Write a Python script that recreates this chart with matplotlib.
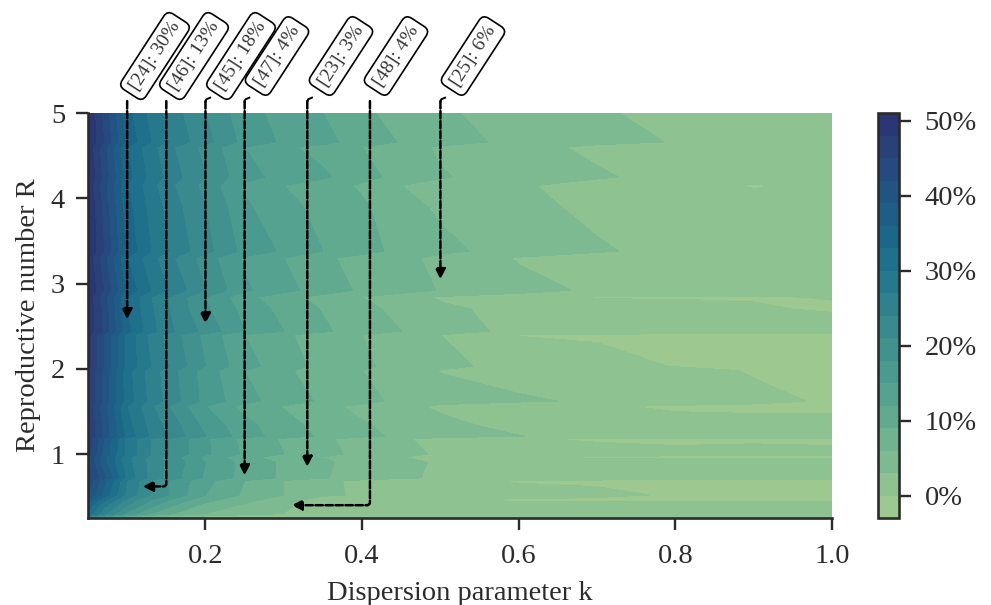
import matplotlib
matplotlib.use("Agg")
import matplotlib.pyplot as plt
from matplotlib.ticker import FuncFormatter
import numpy as np
import seaborn as sns

plt.rcParams.update({
    "font.family": ["Liberation Serif", "DejaVu Serif"],
    "font.size": 20.5,
    "axes.edgecolor": "#2b2b2b",
    "xtick.color": "#2b2b2b",
    "ytick.color": "#2b2b2b",
    "text.color": "#2b2b2b",
    "axes.labelcolor": "#2b2b2b",
})

# estimated share (%) of transmission
k_values = [0.05, 0.07, 0.10, 0.13, 0.16, 0.20, 0.25, 0.30, 0.35, 0.40, 0.45, 0.50, 0.60, 0.70, 0.80, 0.90, 1.00]
R_values = [5.0, 4.66, 4.6, 4.25, 4.15, 3.9, 3.38, 3.3, 2.92, 2.84, 2.7, 2.44, 2.40, 2.03, 1.98,
            1.62, 1.56, 1.34, 1.21, 1.18, 1.0, 0.965, 0.9, 0.72, 0.69, 0.52, 0.46, 0.40, 0.30, 0.25]
share = [
    [51, 44, 34, 29, 25, 21, 16, 14, 12, 9.5, 8, 6.5, 4.5, 3.4, 2, 1.6, 1.5],
    [51, 45, 35, 30, 26, 22, 17, 14.5, 13, 10.5, 8.8, 7.5, 5, 3.6, 2.9, 1.6, 1.5],
    [50, 43, 33, 28, 24, 20, 15, 12.5, 11, 9, 7.5, 5.5, 3.8, 2.5, 2, 1.6, 1.5],
    [51, 44, 34, 29, 25, 21, 16, 14, 12.5, 10, 8, 6.3, 4.3, 3.3, 2.2, 1.6, 1.5],
    [50, 43, 33, 28, 24, 20, 14.5, 12, 10.5, 8.5, 6, 5, 3.3, 2, 1.7, -0.3, 1.2],
    [51, 44, 34, 29, 25, 21, 15.5, 13, 11, 9.5, 7, 5.5, 3.7, 2.4, 1.6, 1.5, 1.3],
    [51, 45, 35, 30, 26, 22, 17, 14.5, 12, 10, 8.2, 6.8, 4.6, 3.3, 2.2, 1.5, 1.3],
    [50, 43, 33, 28, 24, 19.5, 14.5, 12, 9.5, 8, 7, 5, 2.8, 1.8, 1.5, 1.4, 1.2],
    [51, 45, 35, 30, 26, 21, 15.5, 13, 10.5, 8.5, 7.5, 5.8, 3.8, 2.6, 1.8, 1.4, 1.1],
    [50, 43, 33, 27, 23, 18, 13, 10, 8, 6, 4, 2.7, 2, -0.2, -0.2, -0.2, 0.1],
    [50, 44, 33, 27.5, 23, 18.5, 14, 11, 8.8, 7, 5, 3.5, 2.2, 1.2, 1, 0.3, -0.3],
    [50, 44, 34, 28, 24, 20, 15, 12, 9.5, 7.5, 6, 4, 2.4, 1.9, 1.5, 1.6, 1.8],
    [49, 42, 32, 26, 22, 17, 12, 9.5, 7.5, 6, 4.5, 3, -0.1, -0.3, -0.5, -0.5, -0.6],
    [49, 42, 32, 27, 23, 18, 13, 10.5, 8, 6.5, 5, 3.7, 2, 0.9, -0.1, -0.5, -0.6],
    [48, 41, 31, 25.5, 21.5, 16.5, 12, 9.5, 7.5, 6, 4, 2.9, 1.8, 1.2, 0.8, -0.2, -0.5],
    [48, 41, 31.5, 26, 22, 17, 13, 10.5, 8.5, 7, 5.2, 4, 3.4, 2.6, 1.8, 0.6, -0.3],
    [47, 40, 30, 24.5, 20, 15, 11, 8.8, 6.8, 5.2, 3.8, 2.5, 1, 0.3, -0.4, -0.5, -0.5],
    [48, 41, 31, 26, 22, 17, 13, 10, 8, 6.3, 5, 3.8, 2, 1.6, 1, 0.8, 0.9],
    [48, 41, 32, 26.5, 22.5, 18, 13.5, 10.5, 8.5, 6.8, 5.4, 4.2, 3.1, 1.8, 1.3, 1, 1.2],
    [47, 39, 29, 24, 20, 15.5, 11, 8.6, 6.6, 4.7, 3.3, 2.2, 0.2, -0.3, -0.4, -0.2, -0.4],
    [46, 38, 29, 24, 20, 15.5, 11.5, 9, 7, 5, 3.8, 2.6, 1.7, 1, 0.5, 0.4, 0.5],
    [45, 37, 28, 23, 19, 14, 10, 7.5, 6, 4.5, 3.3, 0.2, -0.2, -0.3, -0.3, -0.3, -0.3],
    [45, 37, 28, 23, 19.5, 15, 11, 8.5, 6.5, 4.8, 3.8, 2.6, 1.5, 1.3, 1.2, 1, 1],
    [46, 40, 29, 23, 19, 14.5, 11, 8.5, 6.3, 4.4, 3.5, 2.5, 1.6, 1.4, 0.8, 1, 1.3],
    [44, 37, 27, 21, 17, 13, 9, 6, 3.4, 2.6, 1.5, 0.5, -0.2, -0.3, -0.4, -0.4, -0.4],
    [42, 35, 26, 21, 17, 12, 8.5, 6, 3.4, 2.7, 2, 1.4, 0.9, 0.4, -0.2, -0.4, -0.4],
    [38, 31, 23, 18, 14, 10, 7, 4, 1.8, 0.8, 0.3, -0.1, -0.3, -0.4, -0.4, -0.4, -0.4],
    [35, 28, 21, 16, 12, 8, 5.5, 3.2, 2.4, 2, 1.8, 1.6, 1.2, 0.8, 0.8, 0.8, 0.8],
    [32, 25, 17, 12, 9, 6, 4, 3, 3, 2.9, 2.6, 2, 1.5, 1, 1, 1, 1],
    [20, 13, 7, 4, 2, 0.3, -0.2, -0.3, -0.3, -0.3, -0.3, -0.3, -0.3, -0.3, -0.3, -0.3, -0.3],
]

# study labels and where their arrows point
study_labels = ["[24]: 30%", "[46]: 13%", "[45]: 18%", "[47]: 4%", "[23]: 3%", "[48]: 4%", "[25]: 6%"]
study_k = [0.10, 0.15, 0.20, 0.25, 0.33, 0.41, 0.50]
study_R = [2.58, 0.62, 2.53, 0.75, 0.85, 0.40, 3.05]
target_k = [0.10, 0.12, 0.20, 0.25, 0.33, 0.31, 0.50]

levels = np.arange(-3, 52, 3)
W, H = 991, 605

fig = plt.figure(figsize=(W / 100, H / 100), dpi=100)
ax = fig.add_axes([88 / W, 87 / H, 744 / W, 405 / H])
cax = fig.add_axes([878 / W, 87 / H, 21 / W, 405 / H])

cmap = sns.color_palette("crest", as_cmap=True)
cf = ax.contourf(k_values, R_values, np.array(share), levels=levels, cmap=cmap)

ax.set_xlim(0.05, 1.0)
ax.set_ylim(0.25, 5.0)
ax.set_xticks([0.2, 0.4, 0.6, 0.8, 1.0])
ax.set_yticks([1, 2, 3, 4, 5])
ax.set_xlabel("Dispersion parameter k", labelpad=9)
ax.set_ylabel("Reproductive number R", labelpad=7)
ax.spines["top"].set_visible(False)
ax.spines["right"].set_visible(False)
ax.spines["left"].set_linewidth(1.9)
ax.spines["bottom"].set_linewidth(1.9)
ax.tick_params(axis="x", length=8.5, width=1.7, pad=10)
ax.tick_params(axis="y", length=8.5, width=1.7, pad=8)

cb = fig.colorbar(cf, cax=cax)
cb.set_ticks(range(0, 51, 10))
cb.ax.yaxis.set_major_formatter(FuncFormatter(lambda v, _: f"{v:.0f}%"))
cb.ax.tick_params(length=8.5, width=1.7, pad=10)
cb.outline.set_linewidth(1.9)
cb.dividers.set_visible(False)

box_x = [155, 194, 241, 277, 341, 396, 473]   # box centres, pixels
hooked = [False, False, True, True, True, False, True]

for label, k, R, tk, bx, hook in zip(study_labels, study_k, study_R, target_k, box_x, hooked):
    ax.annotate(label, xy=(bx, H - 56), xycoords="figure pixels", ha="center", va="center",
                rotation=57, rotation_mode="anchor", fontsize=14, color="#333333",
                bbox=dict(boxstyle="round,pad=0.3,rounding_size=0.35", fc="white", ec="black", lw=1.2))
    end = (tk, R)
    conn = "arc3" if tk == k else "angle,angleA=-90,angleB=0,rad=3"
    # pale line under the dashes, then the dashed arrow
    ax.annotate("", xy=end, xytext=(k, 5.14), annotation_clip=False,
                arrowprops=dict(arrowstyle="-", color="white", lw=1.0, alpha=0.7,
                                shrinkA=0, shrinkB=8, connectionstyle=conn))
    ax.annotate("", xy=end, xytext=(k, 5.14), annotation_clip=False,
                arrowprops=dict(arrowstyle="-|>", color="black", lw=1.8, ls=(0, (3, 1)),
                                mutation_scale=15, shrinkA=0, shrinkB=0, connectionstyle=conn))
    if hook:
        ax.plot([k, k + 0.001, k + 0.006], [5.13, 5.16, 5.18], color="black", lw=1.4, clip_on=False)

fig.savefig("out.png", dpi=100)
